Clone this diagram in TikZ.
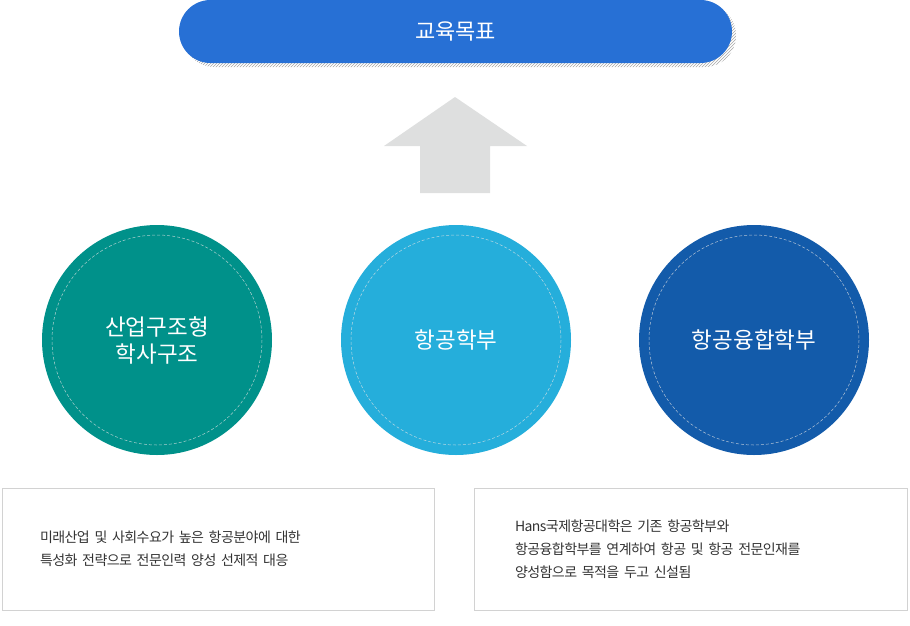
\documentclass[tikz,border=0pt]{standalone}
\usepackage{fontspec}
\setmainfont{Noto Sans CJK KR}
\newfontfamily\desctext[LetterSpace=-4,WordSpace=0.45]{Noto Sans CJK KR}
\usetikzlibrary{positioning,patterns}
\definecolor{goalblue}{HTML}{2770D5}
\definecolor{deptteal}{HTML}{00918A}
\definecolor{deptsky}{HTML}{25AEDB}
\definecolor{deptnavy}{HTML}{135BAA}
\definecolor{arrowgray}{HTML}{DEDFDF}
\definecolor{boxline}{HTML}{D2D2D2}
\definecolor{bodytext}{HTML}{333333}
\tikzset{
goalbar/.style={fill=goalblue,rounded corners=31.5pt,minimum width=553pt,minimum height=63pt,text=white,font=\fontsize{22}{26}\selectfont},
goalshadow/.style={pattern=north east lines,pattern color=gray!70,rounded corners=31.5pt},
dept/.style={circle,minimum size=230pt,text=white,align=center,font=\fontsize{22.5}{27}\selectfont},
innerring/.style={draw=white!80!gray,opacity=.75,dash pattern=on 3pt off 2pt,line width=.5pt},
descbox/.style={draw=boxline,minimum height=122pt,align=left,text=bodytext,font=\desctext\fontsize{14}{23}\selectfont},
uparrow/.style={fill=arrowgray}
}
\begin{document}
\begin{tikzpicture}[x=1pt,y=-1pt]
\useasboundingbox (0,0) rectangle (910,625);
% goal bar with hatched shadow
\path[goalshadow] (183,4) rectangle (736,67);
\node[goalbar](goal) at (455.5,31.5){교육목표};
% arrow up to the goal
\path[uparrow] (455,97) -- (527,146) -- (490,146) -- (490,193) -- (420,193) -- (420,146) -- (384,146) -- cycle;
% departments
\node[dept,fill=deptteal](industry) at (157,340){산업구조형\\학사구조};
\node[dept,fill=deptsky](aviation) at (456,340){항공학부};
\node[dept,fill=deptnavy](convergence) at (754,340){항공융합학부};
\draw[innerring](industry.center) circle (105);
\draw[innerring](aviation.center) circle (105);
\draw[innerring](convergence.center) circle (105);
% descriptions
\node[descbox,text width=356pt,inner xsep=38pt](industrydesc) at (218,549){미래산업 및 사회수요가 높은 항공분야에 대한\\특성화 전략으로 전문인력 양성 선제적 대응};
\node[descbox,text width=351pt,inner xsep=41pt](hansdesc) at (690.5,549){Hans국제항공대학은 기존 항공학부와\\항공융합학부를 연계하여 항공 및 항공 전문인재를\\양성함으로 목적을 두고 신설됨};
\end{tikzpicture}
\end{document}
